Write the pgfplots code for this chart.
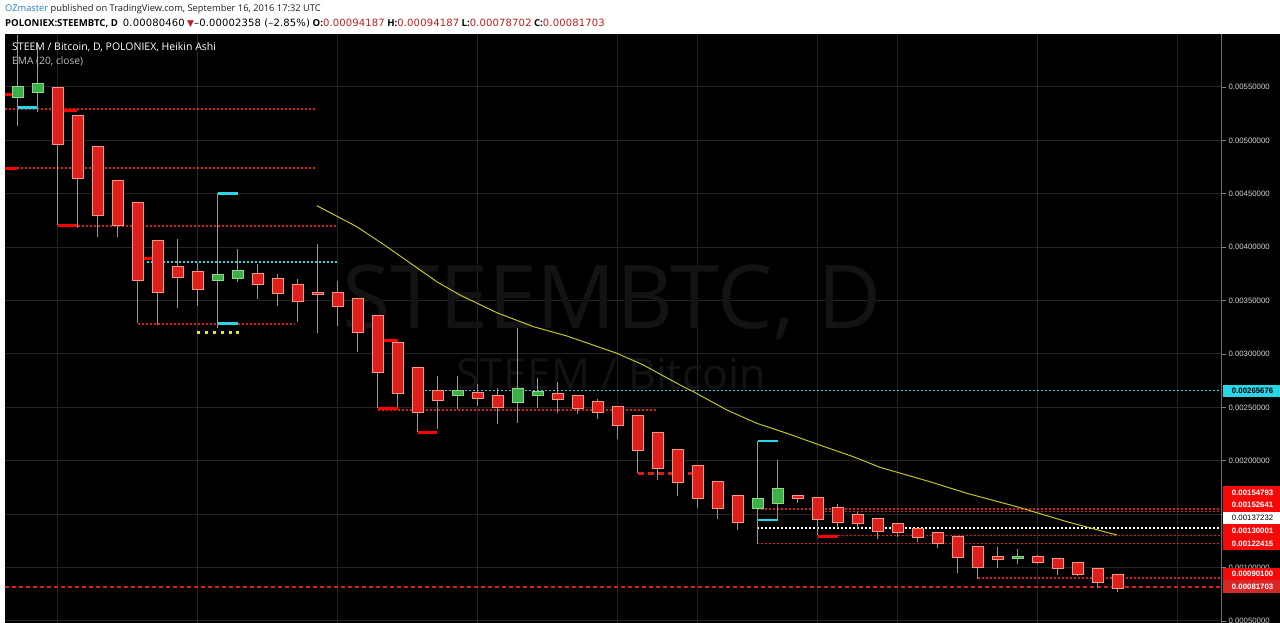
\documentclass[border=0pt]{standalone}
\usepackage{pgfplots}
\usepackage{pgfplotstable}
\pgfplotsset{compat=1.18}
\usepackage{fontspec}
\setmainfont{Open Sans}
\newfontfamily\labfont{Liberation Sans}
\newfontfamily\dejavu{DejaVu Sans}
\newfontfamily\dejavuls[LetterSpace=1.5]{DejaVu Sans}
\definecolor{redbody}{RGB}{222,32,28}
\definecolor{redborder}{RGB}{245,150,130}
\definecolor{greenbody}{RGB}{60,175,70}
\definecolor{greenborder}{RGB}{140,215,140}
\definecolor{wick}{RGB}{150,150,150}
\definecolor{dotred}{RGB}{215,30,30}
\definecolor{cyanl}{RGB}{40,215,230}
\definecolor{emacol}{RGB}{195,195,45}
\definecolor{gridc}{RGB}{36,36,36}
\definecolor{ozblue}{RGB}{35,125,200}
\definecolor{hdr}{RGB}{30,30,30}
\definecolor{valred}{RGB}{190,30,30}
\definecolor{lblred}{RGB}{245,10,10}
\definecolor{lbldark}{RGB}{215,40,40}
\definecolor{wm}{RGB}{19,19,19}
\definecolor{tickc}{RGB}{130,130,130}
\definecolor{ticklab}{RGB}{215,215,215}
\definecolor{sepc}{RGB}{110,110,110}
\definecolor{emalab}{RGB}{190,190,190}
\definecolor{ydot}{RGB}{230,230,40}
\newcommand\nm[1]{{\dejavuls\fontsize{10}{11}\selectfont #1}}

\pgfplotstableread{
i o h l c
2 0.005488 0.005488 0.004208 0.004963
3 0.005228 0.005228 0.004177 0.004645
4 0.004941 0.004941 0.004098 0.004301
5 0.004623 0.004623 0.004098 0.004208
6 0.004417 0.004417 0.003287 0.003693
7 0.004061 0.004061 0.003272 0.003581
8 0.003817 0.004077 0.003434 0.003724
9 0.003771 0.003855 0.003449 0.003609
12 0.003749 0.003843 0.003515 0.003655
13 0.003702 0.003749 0.003449 0.003574
14 0.003643 0.003699 0.003297 0.003496
15 0.003573 0.004030 0.003199 0.003564
16 0.003568 0.003684 0.003265 0.003449
17 0.003515 0.003515 0.003022 0.003203
18 0.003356 0.003356 0.002492 0.002834
19 0.003100 0.003100 0.002507 0.002638
20 0.002866 0.002866 0.002272 0.002460
21 0.002656 0.002794 0.002295 0.002569
23 0.002632 0.002719 0.002513 0.002585
24 0.002610 0.002679 0.002342 0.002501
27 0.002625 0.002741 0.002445 0.002576
28 0.002607 0.002607 0.002435 0.002497
29 0.002551 0.002576 0.002389 0.002457
30 0.002504 0.002504 0.002207 0.002335
31 0.002422 0.002422 0.001883 0.002101
32 0.002263 0.002263 0.001820 0.001935
33 0.002101 0.002101 0.001673 0.001799
34 0.001951 0.001951 0.001555 0.001649
35 0.001799 0.001799 0.001452 0.001555
36 0.001673 0.001673 0.001352 0.001430
39 0.001666 0.001680 0.001608 0.001647
40 0.001654 0.001654 0.001305 0.001455
41 0.001555 0.001596 0.001368 0.001430
42 0.001495 0.001523 0.001359 0.001415
43 0.001455 0.001455 0.001265 0.001346
44 0.001405 0.001415 0.001289 0.001336
45 0.001361 0.001361 0.001243 0.001289
46 0.001327 0.001327 0.001186 0.001233
47 0.001284 0.001284 0.000947 0.001102
48 0.001190 0.001190 0.000893 0.001003
49 0.001102 0.001190 0.000999 0.001083
51 0.001102 0.001115 0.001031 0.001052
52 0.001078 0.001078 0.000931 0.000999
53 0.001040 0.001040 0.000921 0.000937
54 0.000987 0.000987 0.000806 0.000868
55 0.000931 0.000931 0.000774 0.000806
}\reddata

\pgfplotstableread{
i o h l c
0 0.005409 0.005990 0.005138 0.005497
1 0.005456 0.005912 0.005263 0.005528
10 0.003693 0.004510 0.003241 0.003737
11 0.003709 0.003983 0.003677 0.003780
22 0.002616 0.002794 0.002482 0.002654
25 0.002553 0.003241 0.002357 0.002670
26 0.002616 0.002772 0.002497 0.002647
37 0.001555 0.002185 0.001218 0.001642
38 0.001602 0.002007 0.001446 0.001733
50 0.001092 0.001174 0.001034 0.001101
}\greendata

\pgfplotsset{
  wickplot/.style={draw=none, forget plot,
    error bars/.cd, y dir=both, y explicit, error mark=none,
    error bar style={line width=1pt, draw=wick}},
  bodyplot/.style 2 args={draw=none, forget plot,
    error bars/.cd, y dir=both, y explicit, error mark=none,
    error bar style={line width=#2, draw=#1}},
  dotline/.style={draw=#1, line width=1.6pt, dash pattern=on 1.6pt off 2.4pt, forget plot},
  segline/.style={draw=#1, line width=2.6pt, forget plot},
}

\begin{document}
\begin{tikzpicture}[x=1pt,y=1pt]
\useasboundingbox (0,0) rectangle (1280,623);
\clip (0,0) rectangle (1280,623);
\fill[white] (0,0) rectangle (1280,623);
\fill[black] (5,0) rectangle (1280,589);
\begin{axis}[
  at={(5pt,0pt)}, anchor=south west,
  scale only axis, width=1217pt, height=589pt,
  xmin=-0.65, xmax=60.2,
  ymin=0.00048127, ymax=0.00599625,
  axis line style={draw=none},
  xtick={2,9,16,23,30,34,40,44,51,58}, xticklabels={},
  major x tick style={draw=none},
  xtick pos=bottom,
  scaled y ticks=false, scaled x ticks=false,
  ytick={0.0005,0.001,0.0015,0.002,0.0025,0.003,0.0035,0.004,0.0045,0.005,0.0055},
  yticklabels={0.00050000,0.00100000,{},0.00200000,0.00250000,0.00300000,0.00350000,0.00400000,0.00450000,0.00500000,0.00550000},
  ytick pos=right, yticklabel pos=right,
  tick align=outside, major tick length=4pt,
  y tick style={draw=tickc, line width=0.8pt},
  yticklabel style={font=\labfont\fontsize{7.8}{9}\selectfont, text=ticklab, xshift=-1pt},
  grid=major, grid style={draw=gridc, line width=1pt},
  clip=false,
]
% watermark
\node[text=wm, font=\fontsize{88}{88}\selectfont] at (axis cs:29.7,0.003487) {STEEMBTC, D};
\node[text=wm, font=\fontsize{43}{43}\selectfont] at (axis cs:29.65,0.002813) {STEEM / Bitcoin};

% horizontal levels
\addplot[dotline=dotred] coordinates {(-0.65,0.005294) (14.85,0.005294)};
\addplot[dotline=dotred] coordinates {(-0.65,0.004739) (14.85,0.004739)};
\addplot[dotline=dotred] coordinates {(3,0.004201) (15.95,0.004201)};
\addplot[dotline=dotred] coordinates {(6,0.003281) (13.85,0.003281)};
\addplot[dotline=cyanl] coordinates {(6.45,0.003859) (16,0.003859)};
\addplot[dotline=dotred] coordinates {(18,0.002476) (31.9,0.002476)};
\addplot[dotline=cyanl] coordinates {(19.95,0.002657) (60.2,0.002657)};
\addplot[draw=dotred, line width=2.6pt, dash pattern=on 6pt off 4pt, forget plot] coordinates {(31,0.001883) (33.85,0.001883)};
\addplot[dotline=dotred] coordinates {(36.95,0.001548) (60.2,0.001548)};
\addplot[dotline=dotred] coordinates {(39.95,0.001526) (60.2,0.001526)};
\addplot[dotline=white] coordinates {(36.95,0.001372) (60.2,0.001372)};
\addplot[dotline=dotred] coordinates {(40,0.001300) (60.2,0.001300)};
\addplot[dotline=dotred] coordinates {(36.95,0.001224) (60.2,0.001224)};
\addplot[dotline=dotred] coordinates {(48,0.000901) (60.2,0.000901)};
\addplot[draw=dotred, line width=1.8pt, dash pattern=on 4pt off 3pt, forget plot] coordinates {(-0.65,0.000817) (60.2,0.000817)};

% short solid markers
\addplot[segline=red] coordinates {(-0.65,0.005428) (-0.3,0.005428)};
\addplot[segline=cyanl] coordinates {(0,0.005310) (0.95,0.005310)};
\addplot[segline=red] coordinates {(2.25,0.005278) (2.95,0.005278)};
\addplot[segline=red] coordinates {(-0.65,0.004739) (-0.05,0.004739)};
\addplot[segline=red] coordinates {(2,0.004201) (3,0.004201)};
\addplot[segline=red] coordinates {(6.25,0.003892) (6.7,0.003892)};
\addplot[segline=cyanl] coordinates {(10,0.004505) (11,0.004505)};
\addplot[segline=cyanl] coordinates {(10,0.003288) (11,0.003288)};
\addplot[segline=red] coordinates {(18,0.003125) (19,0.003125)};
\addplot[segline=red] coordinates {(18,0.002492) (19,0.002492)};
\addplot[segline=red] coordinates {(20,0.002263) (20.95,0.002263)};
\addplot[segline=cyanl] coordinates {(37,0.002185) (38,0.002185)};
\addplot[segline=cyanl] coordinates {(37,0.001446) (38,0.001446)};
\addplot[segline=red] coordinates {(40,0.001289) (41,0.001289)};
\addplot[only marks, mark=square*, mark size=1.1pt, color=ydot, forget plot] coordinates {(9,0.003206) (9.4,0.003206) (9.8,0.003206) (10.2,0.003206) (10.6,0.003206) (10.95,0.003206)};

% EMA (20, close)
\addplot[draw=emacol, line width=1pt, forget plot] coordinates {(14.94,0.004389) (16.94,0.004192) (18.44,0.004005) (20.94,0.003677) (22.1,0.003552) (23.94,0.003387) (25.77,0.003256) (27.44,0.003169) (29.94,0.003007) (31.27,0.002897) (33.1,0.002710) (33.77,0.002647) (35.44,0.002476) (36.94,0.002351) (38.44,0.002258) (39.94,0.002157) (41.77,0.002038) (43.1,0.001939) (45.6,0.001804) (47.44,0.001696) (49.94,0.001570) (52.44,0.001430) (54.94,0.001305)};

% wicks
\addplot[wickplot] table[x=i, y expr={(\thisrow{h}+\thisrow{l})/2}, y error expr={(\thisrow{h}-\thisrow{l})/2}] {\reddata};
\addplot[wickplot] table[x=i, y expr={(\thisrow{h}+\thisrow{l})/2}, y error expr={(\thisrow{h}-\thisrow{l})/2}] {\greendata};
% bodies
\addplot[bodyplot={redborder}{12pt}] table[x=i, y expr={(\thisrow{o}+\thisrow{c})/2}, y error expr={abs(\thisrow{o}-\thisrow{c})/2+0.0000094}] {\reddata};
\addplot[bodyplot={redbody}{10pt}] table[x=i, y expr={(\thisrow{o}+\thisrow{c})/2}, y error expr={abs(\thisrow{o}-\thisrow{c})/2}] {\reddata};
\addplot[bodyplot={greenborder}{12pt}] table[x=i, y expr={(\thisrow{o}+\thisrow{c})/2}, y error expr={abs(\thisrow{o}-\thisrow{c})/2+0.0000094}] {\greendata};
\addplot[bodyplot={greenbody}{10pt}] table[x=i, y expr={(\thisrow{o}+\thisrow{c})/2}, y error expr={abs(\thisrow{o}-\thisrow{c})/2}] {\greendata};

\draw[draw=sepc, line width=1pt] (rel axis cs:1,0) -- (rel axis cs:1,1);
\end{axis}

% header
\node[anchor=base west, inner sep=0, text=hdr, font=\fontsize{9.3}{11}\selectfont] at (5,611) {\textcolor{ozblue}{OZmaster} published on TradingView.com, September 16, 2016 17:32 UTC};
\node[anchor=base west, inner sep=0, text=black, font=\fontsize{9.6}{11}\selectfont] at (5,596.5) {\textbf{POLONIEX:STEEMBTC, D}\hspace{5pt}\nm{0.00080460} {\dejavu\fontsize{9}{9}\selectfont\textcolor{valred}{▼}}\nm{–0.00002358 (–2.85\%)} \textbf{O:}\textcolor{valred}{\nm{0.00094187}} \textbf{H:}\textcolor{valred}{\nm{0.00094187}} \textbf{L:}\textcolor{valred}{\nm{0.00078702}} \textbf{C:}\textcolor{valred}{\nm{0.00081703}}};
% chart titles
\node[anchor=base west, inner sep=0, text=white, font=\fontsize{10.5}{12}\selectfont] at (12,572) {STEEM / Bitcoin, D, POLONIEX, Heikin Ashi};
\node[anchor=base west, inner sep=0, text=emalab, font=\fontsize{10.2}{12}\selectfont] at (12,558) {EMA (20, close)};

% price labels
\tikzset{plabel/.style={anchor=center, minimum width=57pt, minimum height=12.8pt, inner sep=0pt, font=\labfont\bfseries\fontsize{7.8}{9}\selectfont}}
\node[plabel, fill=cyanl, text=black] at (1251.5,232) {\ 0.00265676};
\node[plabel, fill=lblred, text=white] at (1251.5,130.6) {\ 0.00154793};
\node[plabel, fill=lblred, text=white] at (1251.5,117.8) {\ 0.00152641};
\node[plabel, fill=white, text=black, font=\labfont\fontsize{7.8}{9}\selectfont] at (1251.5,105) {\ 0.00137232};
\node[plabel, fill=lblred, text=white] at (1251.5,92.2) {\ 0.00130001};
\node[plabel, fill=lblred, text=white] at (1251.5,79.4) {\ 0.00122415};
\node[plabel, fill=lblred, text=white] at (1251.5,48.75) {\ 0.00090100};
\node[plabel, fill=lbldark, text=white] at (1251.5,36.25) {\ 0.00081703};
\end{tikzpicture}
\end{document}
